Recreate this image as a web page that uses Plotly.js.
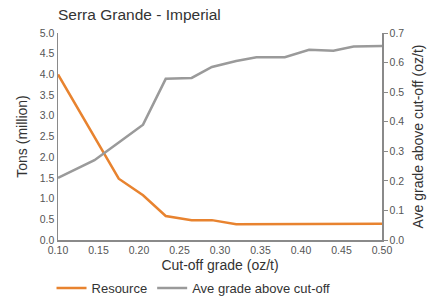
<!DOCTYPE html>
<html>
<head>
<meta charset="utf-8">
<script src="https://cdn.plot.ly/plotly-3.0.1.min.js"></script>
<style>html,body{margin:0;padding:0;background:#fff;}#chart{width:435px;height:299px;}</style>
</head>
<body>
<div id="chart"></div>
<script>
const cutoff = [0.10, 0.145, 0.175, 0.205, 0.233, 0.265, 0.29, 0.32, 0.345, 0.38, 0.41, 0.44, 0.465, 0.50];
const resource = [4.0, 2.5, 1.48, 1.08, 0.58, 0.48, 0.48, 0.38, 0.38, 0.38, 0.38, 0.38, 0.38, 0.39];
const aveGrade = [0.21, 0.27, 0.33, 0.39, 0.545, 0.548, 0.585, 0.605, 0.618, 0.618, 0.643, 0.64, 0.654, 0.656];
const xTicks = [0.10, 0.15, 0.20, 0.25, 0.30, 0.35, 0.40, 0.45, 0.50];

const font = 'Liberation Sans, Arial, sans-serif';
const axisCol = '#8a8a8a';
const tickFont = {family: font, size: 10.5, color: '#555'};

const traces = [
  {x: cutoff, y: resource, type: 'scatter', mode: 'lines', name: 'Resource',
   line: {color: '#E8832F', width: 2.5}, yaxis: 'y'},
  {x: cutoff, y: aveGrade, type: 'scatter', mode: 'lines', name: 'Ave grade above cut-off',
   line: {color: '#9a9a9a', width: 2.5}, yaxis: 'y2'}
];

const layout = {
  width: 435, height: 299,
  margin: {l: 58, r: 53, t: 33, b: 59, autoexpand: false},
  paper_bgcolor: '#fff', plot_bgcolor: '#fff',
  font: {family: font, color: '#333'},
  title: {text: 'Serra Grande - Imperial', x: 58/435, xanchor: 'left', y: 1 - 15/299, yanchor: 'middle',
          font: {family: font, size: 15.5, color: '#333'}},
  xaxis: {range: [0.1, 0.5], tickvals: xTicks, tickformat: '.2f', showgrid: false, zeroline: false,
          showline: true, linecolor: axisCol, linewidth: 1.5, ticks: '', tickfont: tickFont,
          title: {text: 'Cut-off grade (oz/t)', font: {family: font, size: 14, color: '#333'}, standoff: 5}},
  yaxis: {range: [0, 5], dtick: 0.5, tickformat: '.1f', showgrid: false, zeroline: false,
          showline: true, linecolor: axisCol, linewidth: 1.5, ticks: '', tickfont: tickFont,
          title: {text: 'Tons (million)', font: {family: font, size: 14, color: '#333'}, standoff: 9}},
  yaxis2: {range: [0, 0.7], dtick: 0.1, tickformat: '.1f', overlaying: 'y', side: 'right',
           showgrid: false, zeroline: false, showline: true, linecolor: axisCol, linewidth: 1.5,
           ticks: 'outside', ticklen: 4, tickcolor: axisCol, tickfont: tickFont,
           title: {text: 'Ave grade above cut-off (oz/t)', font: {family: font, size: 14, color: '#333'}, standoff: 10}},
  showlegend: true,
  legend: {orientation: 'h', x: -0.02, xanchor: 'left', y: -0.232, yanchor: 'middle',
           font: {family: font, size: 13, color: '#333'}, itemwidth: 30, tracegroupgap: 0}
};

Plotly.newPlot('chart', traces, layout, {displayModeBar: false, staticPlot: true});
</script>
</body>
</html>
